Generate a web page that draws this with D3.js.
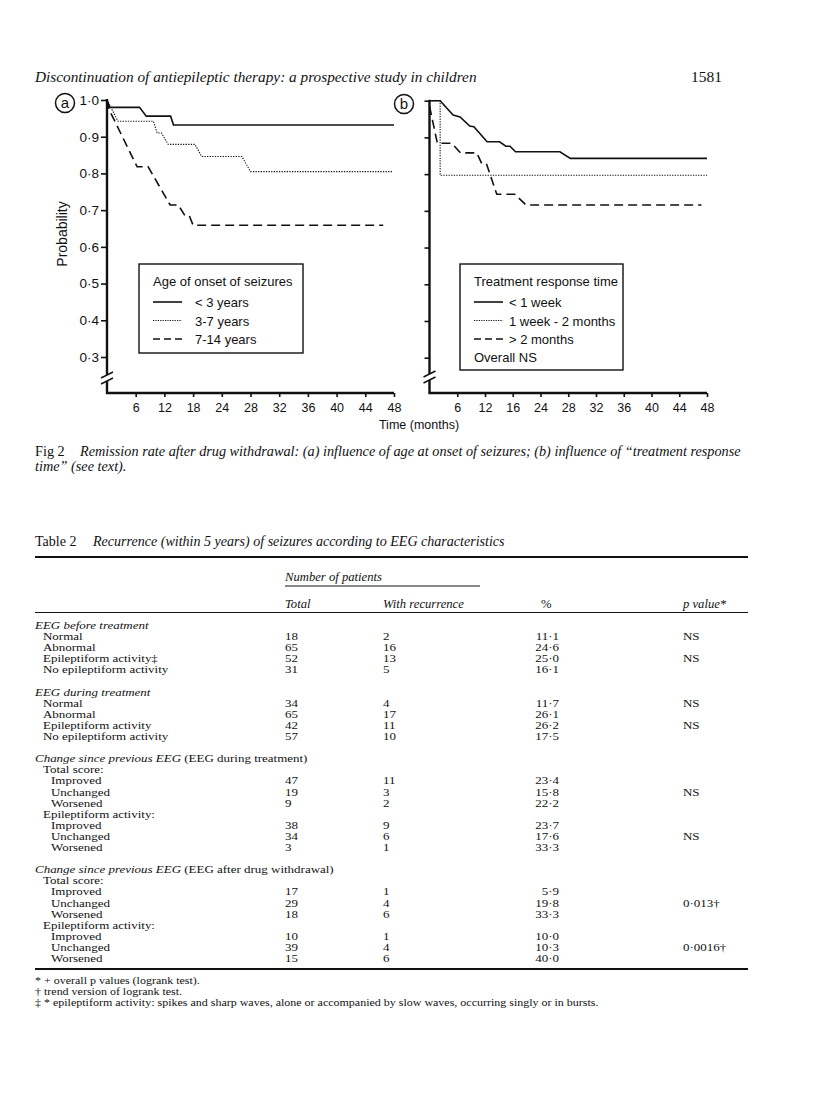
<!DOCTYPE html>
<html><head><meta charset="utf-8">
<script src="https://cdn.jsdelivr.net/npm/d3@7"></script>
<style>body{margin:0;background:#fff}</style>
</head><body>
<svg id="c" width="816" height="1110"></svg>
<script>
// ---------------- DATA ----------------
const xTicksA = [6,12,18,24,28,32,36,40,44,48];
const xTicksB = [6,12,16,24,28,32,36,40,44,48];
const yTicks = [0.3,0.4,0.5,0.6,0.7,0.8,0.9,1.0];

const legendTitleA = "Age of onset of seizures";
const legendNamesA = ["< 3 years","3-7 years","7-14 years"];
const legendTitleB = "Treatment response time";
const legendNamesB = ["< 1 week","1 week - 2 months","> 2 months"];
const legendNoteB = "Overall NS";

// panel a: [month, probability]
const onsetUnder3 = [[0,1.0],[0.6,0.98],[6.8,0.98],[8.2,0.956],[13.3,0.956],[13.9,0.932],[48,0.932]];
const onset3to7 = [[0,1.0],[1.0,0.975],[2.3,0.942],[9.7,0.942],[10.5,0.91],[11.4,0.91],[12.8,0.879],[18.4,0.879],[19.8,0.846],[26.8,0.846],[28,0.805],[47.8,0.805]];
const onset7to14 = [[0,1.0],[0.4,0.975],[6.3,0.818],[8.6,0.818],[13.2,0.714],[14.9,0.714],[16.3,0.685],[17.2,0.685],[18.0,0.659],[46.5,0.659]];
// panel b
const respUnder1w = [[0,1.0],[2.3,1.0],[5.1,0.961],[6.6,0.956],[8.7,0.931],[9.6,0.929],[12.3,0.888],[14.1,0.888],[15.0,0.876],[15.6,0.876],[16.8,0.861],[26.8,0.861],[28.3,0.843],[48,0.843]];
const resp1wTo2m = [[0,1.0],[2.3,1.0],[2.3,0.797],[48,0.797]];
const respOver2m = [[0,0.985],[1.7,0.884],[4.8,0.884],[6.7,0.858],[10.2,0.858],[11.3,0.829],[12.2,0.829],[13.7,0.745],[16.6,0.745],[19.8,0.716],[47.2,0.716]];

// table
const rowKinds = ["group","item","item","item","item","blank","group","item","item","item","item","blank","group","sub","item2","item2","item2","sub","item2","item2","item2","blank","group","sub","item2","item2","item2","sub","item2","item2","item2"];
const rowLabels = ["EEG before treatment","Normal","Abnormal","Epileptiform activity\u2021","No epileptiform activity","","EEG during treatment","Normal","Abnormal","Epileptiform activity","No epileptiform activity","","Change since previous EEG|(EEG during treatment)","Total score:","Improved","Unchanged","Worsened","Epileptiform activity:","Improved","Unchanged","Worsened","","Change since previous EEG|(EEG after drug withdrawal)","Total score:","Improved","Unchanged","Worsened","Epileptiform activity:","Improved","Unchanged","Worsened"];
const totals = [null,18,65,52,31,null,null,34,65,42,57,null,null,null,47,19,9,null,38,34,3,null,null,null,17,29,18,null,10,39,15];
const recurrences = [null,2,16,13,5,null,null,4,17,11,10,null,null,null,11,3,2,null,9,6,1,null,null,null,1,4,6,null,1,4,6];
const percents = [null,"11·1","24·6","25·0","16·1",null,null,"11·7","26·1","26·2","17·5",null,null,null,"23·4","15·8","22·2",null,"23·7","17·6","33·3",null,null,null,"5·9","19·8","33·3",null,"10·0","10·3","40·0"];
const pValues = [null,"NS",null,"NS",null,null,null,"NS",null,"NS",null,null,null,null,null,"NS",null,null,null,"NS",null,null,null,null,null,"0·013\u2020",null,null,null,"0·0016\u2020",null];
const footnotes = ["* + overall p values (logrank test).","\u2020 trend version of logrank test.","\u2021 * epileptiform activity: spikes and sharp waves, alone or accompanied by slow waves, occurring singly or in bursts."];

// ---------------- DRAW ----------------
const SANS = "'Liberation Sans',Arial,sans-serif";
const SERIF = "'Liberation Serif','Times New Roman',serif";
const INK = "#111";
const svg = d3.select("#c");
svg.append("rect").attr("width",816).attr("height",1110).attr("fill","#fff");

// page header
svg.append("text").attr("x",35).attr("y",82).attr("font-family",SERIF).attr("font-style","italic")
  .attr("font-size",15.3).attr("fill",INK).text("Discontinuation of antiepileptic therapy: a prospective study in children");
svg.append("text").attr("x",722).attr("y",82).attr("text-anchor","end").attr("font-family",SERIF)
  .attr("font-size",15.5).attr("fill",INK).text("1581");

const dashStyles = [null,"1.3,1.3","9,5"];
const dashWidths = [1.6,1.1,1.6];
const legendDash = [null,"1.2,1.2","7,4"];
const LFS = 13;

function drawPanel(cfg) {
  const g = svg.append("g");
  const xDomain = [0].concat(cfg.xTicks);
  const x = d3.scaleLinear().domain(xDomain)
    .range(xDomain.map((d,i)=> cfg.x0 + i*(cfg.x1-cfg.x0)/(xDomain.length-1)));
  const y = d3.scaleLinear().domain([0.3,1.0]).range([cfg.y03, cfg.y10]);
  const axisY = cfg.axisY;

  const ya = g.append("g").attr("transform",`translate(${cfg.x0},0)`)
    .call(d3.axisLeft(y).tickValues(yTicks).tickSize(cfg.yTickSize).tickPadding(2)
      .tickFormat(cfg.yLabels ? (d=>d3.format(".1f")(d).replace(".","·")) : ""));
  ya.select(".domain").remove();
  ya.selectAll("line").attr("stroke",INK).attr("stroke-width",1.6);
  ya.selectAll("text").attr("font-family",SANS).attr("font-size",13.5).attr("fill",INK);

  const xa = g.append("g").attr("transform",`translate(0,${axisY})`)
    .call(d3.axisBottom(x).tickValues(cfg.xTicks).tickSize(4).tickPadding(6.5));
  xa.select(".domain").remove();
  xa.selectAll("line").attr("stroke",INK).attr("stroke-width",1.6);
  xa.selectAll("text").attr("font-family",SANS).attr("font-size",12.5).attr("fill",INK);

  const bY = cfg.breakY;
  g.append("line").attr("x1",cfg.x0).attr("x2",cfg.x0).attr("y1",y(1.0)-1).attr("y2",bY-3)
    .attr("stroke",INK).attr("stroke-width",2.4);
  g.append("path").attr("d",`M${cfg.x0},${bY+3}V${axisY}H${x(48)}`).attr("fill","none")
    .attr("stroke",INK).attr("stroke-width",2.4);
  [-3,3].forEach(o=>{
    g.append("line").attr("x1",cfg.x0-6).attr("y1",bY+o+3).attr("x2",cfg.x0+6).attr("y2",bY+o-3)
      .attr("stroke",INK).attr("stroke-width",1.4);
  });

  const line = d3.line().x(d=>x(d[0])).y(d=>y(d[1]));
  cfg.series.forEach((s,i)=>{
    g.append("path").attr("d",line(s)).attr("fill","none").attr("stroke",INK)
      .attr("stroke-width",dashWidths[i]).attr("stroke-dasharray",dashStyles[i]);
  });

  g.append("circle").attr("cx",cfg.cx).attr("cy",cfg.cy).attr("r",9.5).attr("fill","none")
    .attr("stroke",INK).attr("stroke-width",1.5);
  g.append("text").attr("x",cfg.cx).attr("y",cfg.cy+4.5).attr("text-anchor","middle")
    .attr("font-family",SANS).attr("font-size",15).attr("fill",INK).text(cfg.letter);

  const L = cfg.legend;
  g.append("rect").attr("x",L.x).attr("y",L.y).attr("width",L.w).attr("height",L.h)
    .attr("fill","#fff").attr("stroke",INK).attr("stroke-width",1.4);
  g.append("text").attr("x",L.x+14).attr("y",L.y+22).attr("font-family",SANS).attr("font-size",LFS)
    .attr("fill",INK).text(cfg.legendTitle);
  cfg.legendNames.forEach((n,i)=>{
    const ly = L.y+38+i*18.5;
    g.append("line").attr("x1",L.x+14).attr("x2",L.x+43).attr("y1",ly).attr("y2",ly)
      .attr("stroke",INK).attr("stroke-width",dashWidths[i]).attr("stroke-dasharray",legendDash[i]);
    g.append("text").attr("x",L.x+L.tx).attr("y",ly+5).attr("font-family",SANS).attr("font-size",LFS)
      .attr("fill",INK).text(n);
  });
  if (cfg.legendNote) {
    g.append("text").attr("x",L.x+14).attr("y",L.y+38+3*18.5+4).attr("font-family",SANS).attr("font-size",LFS)
      .attr("fill",INK).text(cfg.legendNote);
  }
}

drawPanel({x0:107,x1:394,y03:357,y10:100,axisY:393,breakY:378,xTicks:xTicksA,yLabels:true,yTickSize:6,
  series:[onsetUnder3,onset3to7,onset7to14],cx:65,cy:103,letter:"a",
  legend:{x:139,y:264,w:164,h:89,tx:56},legendTitle:legendTitleA,legendNames:legendNamesA});
drawPanel({x0:429.5,x1:707,y03:357.7,y10:100.7,axisY:393,breakY:377,xTicks:xTicksB,yLabels:false,yTickSize:5,
  series:[respUnder1w,resp1wTo2m,respOver2m],cx:404,cy:104,letter:"b",
  legend:{x:460,y:264,w:163,h:106,tx:49},legendTitle:legendTitleB,legendNames:legendNamesB,legendNote:legendNoteB});

svg.append("text").attr("transform","translate(67,234) rotate(-90)").attr("text-anchor","middle")
  .attr("font-family",SANS).attr("font-size",14).attr("fill",INK).text("Probability");
svg.append("text").attr("x",419).attr("y",429).attr("text-anchor","middle")
  .attr("font-family",SANS).attr("font-size",12.5).attr("fill",INK).text("Time (months)");

// figure caption
const CFS = 14.25;
const cap1 = svg.append("text").attr("x",35).attr("y",456).attr("font-family",SERIF).attr("font-size",CFS).attr("fill",INK);
cap1.append("tspan").text("Fig 2");
cap1.append("tspan").attr("x",80).attr("font-style","italic").text("Remission rate after drug withdrawal: (a) influence of age at onset of seizures; (b) influence of \u201Ctreatment response");
svg.append("text").attr("x",35).attr("y",471).attr("font-family",SERIF).attr("font-size",CFS).attr("fill",INK)
  .attr("font-style","italic").text("time\u201D (see text).");

// table title
const tt = svg.append("text").attr("x",35).attr("y",546).attr("font-family",SERIF).attr("font-size",14.05).attr("fill",INK);
tt.append("tspan").text("Table 2");
tt.append("tspan").attr("x",93).attr("font-style","italic").text("Recurrence (within 5 years) of seizures according to EEG characteristics");

// table rules
const TL = 35, TR = 748;
svg.append("line").attr("x1",TL).attr("x2",TR).attr("y1",557).attr("y2",557).attr("stroke",INK).attr("stroke-width",2);
svg.append("line").attr("x1",285).attr("x2",480).attr("y1",586).attr("y2",586).attr("stroke",INK).attr("stroke-width",1);
svg.append("line").attr("x1",TL).attr("x2",TR).attr("y1",612.5).attr("y2",612.5).attr("stroke",INK).attr("stroke-width",1);
svg.append("line").attr("x1",TL).attr("x2",TR).attr("y1",969).attr("y2",969).attr("stroke",INK).attr("stroke-width",2);

const tfs = 11, SX = 1.18;
function ttext(x,y,t,italic,anchor,fs,sx){
  return svg.append("text").attr("transform",`translate(${x},${y}) scale(${sx||SX},1)`)
    .attr("font-family",SERIF).attr("font-size",fs||tfs)
    .attr("fill",INK).attr("font-style",italic?"italic":null).attr("text-anchor",anchor||"start").text(t);
}
ttext(285,581,"Number of patients",true,null,11.5,1.1);
ttext(285,607.5,"Total",true,null,11.5,1.1);
ttext(383,607.5,"With recurrence",true,null,11.5,1.1);
ttext(541,607.5,"%",false,null,11.5,1.1);
ttext(683,607.5,"p value*",true,null,11.5,1.1);

const colX = {total:285, rec:383, pct:559, p:683};
const indent = {group:35,item:43,sub:43,item2:51};
rowKinds.forEach((k,i)=>{
  if (k==="blank") return;
  const yy = 629 + i*11.1;
  const lab = rowLabels[i];
  if (k==="group") {
    const parts = lab.split("|");
    const t = ttext(indent[k],yy,"",false);
    t.append("tspan").attr("font-style","italic").text(parts[0]);
    if (parts[1]) t.append("tspan").text(" "+parts[1]);
  } else {
    ttext(indent[k],yy,lab,false);
  }
  if (totals[i]!=null) ttext(colX.total,yy,String(totals[i]));
  if (recurrences[i]!=null) ttext(colX.rec,yy,String(recurrences[i]));
  if (percents[i]!=null) ttext(colX.pct,yy,percents[i],false,"end");
  if (pValues[i]!=null) ttext(colX.p,yy,pValues[i]);
});

footnotes.forEach((f,i)=>{
  ttext(35,984+i*11,f,false,null,10,1.2);
});
</script>
</body></html>
